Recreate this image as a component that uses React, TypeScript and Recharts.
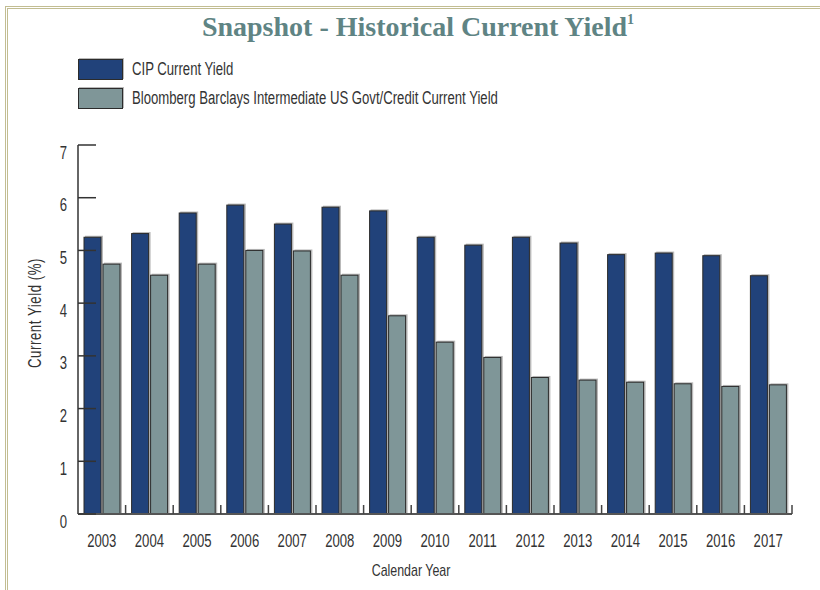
import React from 'react';
import { BarChart, Bar, XAxis, YAxis } from 'recharts';

const years = ['2003', '2004', '2005', '2006', '2007', '2008', '2009', '2010', '2011', '2012', '2013', '2014', '2015', '2016', '2017'];
const cipYield = [5.25, 5.32, 5.71, 5.86, 5.5, 5.82, 5.75, 5.25, 5.1, 5.25, 5.14, 4.92, 4.95, 4.9, 4.52];
const bbYield = [4.74, 4.53, 4.74, 5.0, 4.99, 4.53, 3.76, 3.26, 2.97, 2.59, 2.54, 2.5, 2.47, 2.42, 2.45];
const yTicks = [0, 1, 2, 3, 4, 5, 6, 7];
const seriesNames = ['CIP Current Yield', 'Bloomberg Barclays Intermediate US Govt/Credit Current Yield'];
const seriesKeys = ['cip', 'bb'];
const seriesColors = ['#21427a', '#7f9698'];

const data = years.map((year, i) => ({ year, cip: cipYield[i], bb: bbYield[i] }));

const W = 820;
const H = 590;
const MARGIN = { top: 145, right: 28, bottom: 36, left: 28 };
const Y_AXIS_W = 50;
const X_AXIS_H = 40;
const PLOT_W = W - MARGIN.left - MARGIN.right - Y_AXIS_W;
const BAND = PLOT_W / years.length;

const FONT = "'Liberation Sans', Arial, sans-serif";
const SQ = 0.73;
const TEXT = '#333333';

const YTick = (props: any) => {
  const { x, y, payload } = props;
  return (
    <g>
      <line x1={x} x2={x + 18} y1={y} y2={y} stroke="#333" strokeWidth={1.5} />
      <text transform={`translate(${x - 11},${y + 13.5}) scale(${SQ},1)`} textAnchor="end" fontFamily={FONT} fontSize={18} fill={TEXT}>
        {payload.value}
      </text>
    </g>
  );
};

const XTick = (props: any) => {
  const { x, y, payload } = props;
  return (
    <g>
      <line x1={x + BAND / 2} x2={x + BAND / 2} y1={y} y2={y - 9} stroke="#444" strokeWidth={1.5} />
      <text transform={`translate(${x},${y + 32.5}) scale(${SQ},1)`} textAnchor="middle" fontFamily={FONT} fontSize={18} fill={TEXT}>
        {payload.value}
      </text>
    </g>
  );
};

const ShadowBar = (props: any) => {
  const { x, y, width, height, fill } = props;
  if (!height || height <= 0) return null;
  return (
    <g>
      <rect x={x + 1} y={y - 1.5} width={width + 1} height={height + 1.5} fill="#b9b9b9" />
      <rect x={x} y={y} width={width} height={height} fill={fill} stroke="#2b2b2b" strokeWidth={1} />
    </g>
  );
};

const htmlText: React.CSSProperties = {
  fontFamily: FONT,
  fontSize: 18,
  color: TEXT,
  whiteSpace: 'nowrap',
};

export default function App() {
  return (
    <div style={{ position: 'relative', width: W, height: H, background: '#fff', overflow: 'hidden' }}>
      <style>{'body{margin:0;}'}</style>
      <div style={{ position: 'absolute', left: 5, top: 6, right: -10, bottom: -10, borderTop: '3px double #c2bd92', borderLeft: '3px double #c2bd92' }} />
      <div
        style={{
          position: 'absolute',
          left: 0,
          width: 836,
          top: 9,
          textAlign: 'center',
          fontFamily: "'Liberation Serif', 'DejaVu Serif', serif",
          fontWeight: 'bold',
          fontSize: 28,
          lineHeight: '36px',
          color: '#5f8484',
        }}
      >
        Snapshot - Historical Current Yield<span style={{ fontSize: 14, verticalAlign: 'top', lineHeight: '22px' }}>1</span>
      </div>
      {seriesNames.map((name, i) => (
        <div key={name} style={{ position: 'absolute', left: 78, top: 59 + i * 29, height: 20, display: 'flex', alignItems: 'center' }}>
          <div style={{ width: 43, height: 19, background: seriesColors[i], border: '1px solid #2b2b2b', boxShadow: '1px -1px 0 #b9b9b9', flex: 'none' }} />
          <span style={{ ...htmlText, marginLeft: 9, transform: `scaleX(${SQ})`, transformOrigin: 'left center', display: 'inline-block' }}>{name}</span>
        </div>
      ))}
      <div
        style={{
          ...htmlText,
          letterSpacing: 0.8,
          position: 'absolute',
          left: 35,
          top: 313,
          transform: `translate(-50%, -50%) rotate(-90deg) scaleX(${SQ})`,
        }}
      >
        Current Yield (%)
      </div>
      <div
        style={{
          ...htmlText,
          fontSize: 17,
          position: 'absolute',
          left: 411,
          top: 571,
          transform: `translate(-50%, -50%) scaleX(${SQ})`,
        }}
      >
        Calendar Year
      </div>
      <div style={{ position: 'absolute', left: 0, top: 0 }}>
        <BarChart width={W} height={H} data={data} margin={MARGIN} barSize={17} barGap={2}>
          <YAxis
            zIndex={100}
            width={Y_AXIS_W}
            domain={[0, 7]}
            ticks={yTicks}
            interval={0}
            tickLine={false}
            tickSize={0}
            tickMargin={0}
            axisLine={{ stroke: '#333', strokeWidth: 1.5 }}
            tick={<YTick />}
          />
          <XAxis
            dataKey="year"
            height={X_AXIS_H}
            interval={0}
            tickLine={false}
            tickSize={0}
            tickMargin={0}
            axisLine={{ stroke: '#555', strokeWidth: 2 }}
            tick={<XTick />}
          />
          {seriesKeys.map((k, i) => (
            <Bar key={k} dataKey={k} name={seriesNames[i]} fill={seriesColors[i]} isAnimationActive={false} shape={<ShadowBar />} />
          ))}
        </BarChart>
      </div>
    </div>
  );
}
